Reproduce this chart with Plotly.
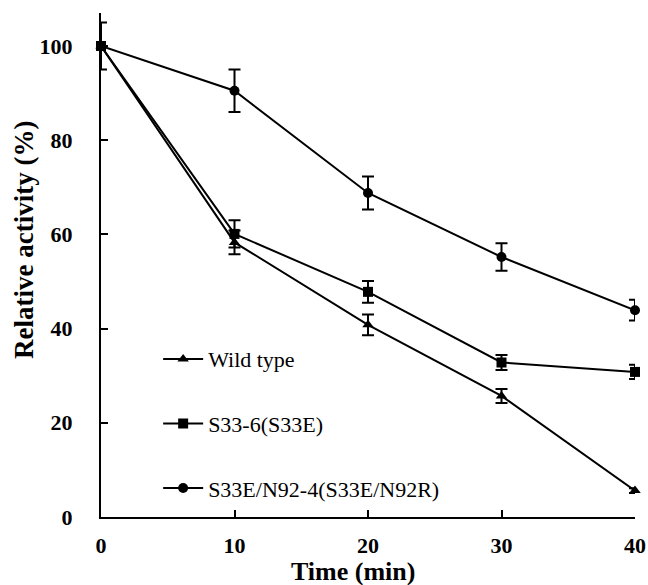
import plotly.graph_objects as go

time_min = [0, 10, 20, 30, 40]
names = ["Wild type", "S33-6(S33E)", "S33E/N92-4(S33E/N92R)"]
wild = [100, 58.3, 40.8, 25.7, 5.6]
wild_err = [5.0, 2.5, 2.2, 1.5, 0.5]
s33e = [100, 60.1, 47.8, 32.8, 30.8]
s33e_err = [0, 2.9, 2.3, 1.6, 1.5]
dbl = [100, 90.5, 68.8, 55.2, 43.9]
dbl_err = [0, 4.5, 3.5, 2.9, 2.2]
x_title = "Time (min)"
y_title = "Relative activity (%)"

series = [(names[0], wild, wild_err, "triangle-up"),
          (names[1], s33e, s33e_err, "square"),
          (names[2], dbl, dbl_err, "circle")]

FONT = "Liberation Serif, Times New Roman, serif"
fig = go.Figure()
for i, (nm, vals, errs, sym) in enumerate(series):
    fig.add_trace(go.Scatter(
        x=time_min, y=vals, name=nm, mode="lines+markers",
        legendgroup=str(i),
        line=dict(color="black", width=2),
        marker=dict(symbol=sym, size=10, color="black"),
        error_y=dict(type="data", array=errs, visible=True, color="black", thickness=2, width=6),
        cliponaxis=False,
    ))

fig.add_annotation(text="<b>" + x_title + "</b>", xref="paper", yref="paper", x=0.472, y=-0.109,
                   xanchor="center", yanchor="middle", showarrow=False,
                   font=dict(size=26, family=FONT, color="black"))
fig.add_annotation(text="<b>" + y_title + "</b>", xref="paper", yref="paper", x=-0.144, y=0.55,
                   xanchor="center", yanchor="middle", showarrow=False, textangle=-90,
                   font=dict(size=27, family=FONT, color="black"))

fig.update_layout(
    width=648, height=585,
    margin=dict(l=101, r=13, t=13, b=68),
    plot_bgcolor="white", paper_bgcolor="white",
    font=dict(family=FONT, color="black"),
    showlegend=True,
    legend=dict(x=0.107, y=0.355, xanchor="left", yanchor="top",
                bgcolor="rgba(0,0,0,0)", font=dict(size=22, family=FONT),
                tracegroupgap=33, itemwidth=40),
    xaxis=dict(range=[0, 40], tickvals=[0, 10, 20, 30, 40], showline=True, linecolor="black",
               linewidth=2, ticks="inside", ticklen=7, tickwidth=2, tickcolor="black",
               showgrid=False, zeroline=False, ticklabelstandoff=8, automargin=False,
               tickfont=dict(size=22, family=FONT, weight="bold")),
    yaxis=dict(range=[0, 107], tickvals=[0, 20, 40, 60, 80, 100], showline=True, linecolor="black",
               linewidth=2, ticks="inside", ticklen=7, tickwidth=2, tickcolor="black",
               showgrid=False, zeroline=False, ticklabelstandoff=22, automargin=False,
               tickfont=dict(size=22, family=FONT, weight="bold")),
)
fig.write_html("out.html", config={"displayModeBar": False},
               post_script="document.body.style.margin='0';")
